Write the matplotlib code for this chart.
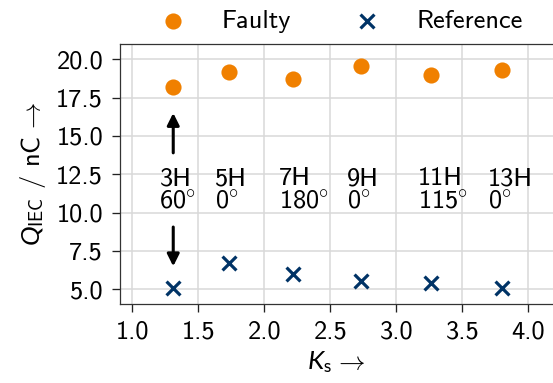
import matplotlib
matplotlib.use("Agg")
import matplotlib.pyplot as plt

# Harmonic order labels and injected phase angles (degrees)
harmonics = ["3H", "5H", "7H", "9H", "11H", "13H"]
phases = ["60", "0", "180", "0", "115", "0"]

# Stress factor K_s for each harmonic
k_s = [1.31, 1.73, 2.215, 2.73, 3.265, 3.80]

# Apparent charge per IEC 60270 in nC
q_faulty = [18.22, 19.17, 18.72, 19.56, 18.98, 19.30]
q_reference = [5.09, 6.72, 6.00, 5.52, 5.44, 5.09]

plt.rcParams["font.family"] = ["cmss10", "DejaVu Sans"]
plt.rcParams["mathtext.fontset"] = "custom"
plt.rcParams["mathtext.rm"] = "cmss10"
plt.rcParams["mathtext.it"] = "Lato:italic"
plt.rcParams["mathtext.fallback"] = "cm"
plt.rcParams["axes.formatter.use_mathtext"] = True
plt.rcParams["font.size"] = 19

ORANGE = "#f08000"
NAVY = "#003366"

fig = plt.figure(figsize=(5.53, 3.83), dpi=100)
ax = fig.add_axes([119.5 / 553, 1 - 304 / 383, (553.5 - 119.5) / 553, (304 - 44) / 383])

ax.scatter(k_s, q_faulty, s=135, color=ORANGE, marker="o", linewidths=0, label="Faulty", zorder=3)
ax.scatter(k_s, q_reference, s=100, color=NAVY, marker="x", linewidths=2.3, label="Reference", zorder=3)

for k, h, p in zip(k_s, harmonics, phases):
    ax.text(k - 0.105, 11.5, h + "\n" + r"$\mathrm{" + p + r"}^{\circ}$", ha="left", va="center",
            linespacing=0.95)

arrow = dict(arrowstyle="-|>", color="black", lw=2.2, mutation_scale=18, shrinkA=0, shrinkB=0)
ax.annotate("", xy=(k_s[0], 16.5), xytext=(k_s[0], 13.9), arrowprops=arrow)
ax.annotate("", xy=(k_s[0], 6.5), xytext=(k_s[0], 9.06), arrowprops=arrow)

ax.set_xlim(0.903, 4.19)
ax.set_ylim(4.04, 21.0)
ax.set_xticks([1.0, 1.5, 2.0, 2.5, 3.0, 3.5, 4.0])
ax.set_yticks([5.0, 7.5, 10.0, 12.5, 15.0, 17.5, 20.0])
ax.set_xticklabels(["1.0", "1.5", "2.0", "2.5", "3.0", "3.5", "4.0"])
ax.set_yticklabels(["5.0", "7.5", "10.0", "12.5", "15.0", "17.5", "20.0"])

ax.grid(True, color="#d9d9d9", linewidth=1.1)
ax.set_axisbelow(True)
ax.tick_params(direction="out", length=5.8, width=0.95, color="#222222", pad=6)
for s in ax.spines.values():
    s.set_color("#333333")
    s.set_linewidth(0.9)

ax.set_xlabel(r"$K_\mathrm{s}\,\rightarrow$", labelpad=4)
ax.set_ylabel(r"$Q_\mathrm{IEC}$ / nC$\,\rightarrow$", labelpad=6)

ax.legend(loc="lower center", bbox_to_anchor=(0.495, 0.99), ncol=2, frameon=False,
          handlelength=2.0, handletextpad=0.85, columnspacing=1.9, borderaxespad=0.1)

fig.savefig("out.png", dpi=100)
